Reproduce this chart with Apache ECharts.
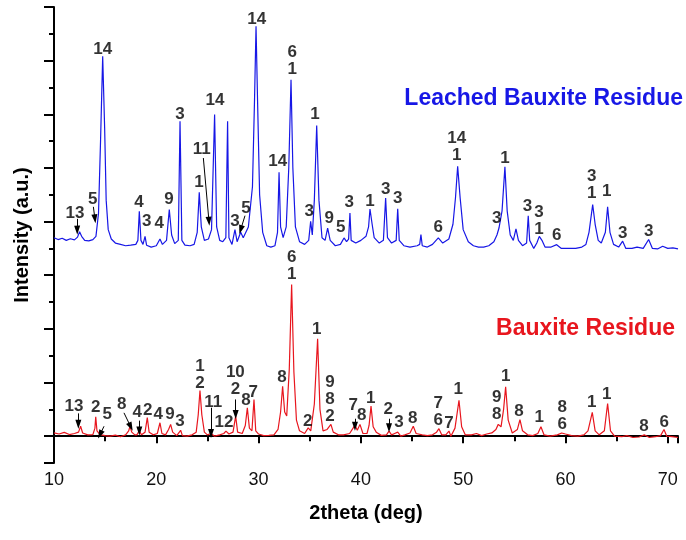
<!DOCTYPE html>
<html>
<head>
<meta charset="utf-8">
<script src="https://cdn.jsdelivr.net/npm/echarts@6/dist/echarts.min.js"></script>
<style>
  html, body { margin: 0; padding: 0; background: #fff; }
  #chart { width: 686px; height: 540px; }
</style>
</head>
<body>
<div id="chart"></div>
<script>
// XRD patterns, [2theta, intensity] (offset traces)
const leachedPattern = [
  [10.0, 7.40], [10.4, 7.33], [10.8, 7.38], [11.2, 7.30], [11.6, 7.36], [12.0, 7.32],
  [12.3, 7.42], [12.5, 7.62], [12.7, 7.45], [13.0, 7.30], [13.4, 7.28], [13.8, 7.33],
  [14.1, 7.45], [14.35, 8.3], [14.55, 11.0], [14.76, 14.16], [14.95, 11.5], [15.1, 8.8],
  [15.3, 7.7], [15.6, 7.35], [16.0, 7.20], [16.5, 7.15], [17.0, 7.10], [17.5, 7.12],
  [18.0, 7.15], [18.2, 7.3], [18.34, 8.38], [18.5, 7.3], [18.7, 7.15], [18.9, 7.45],
  [19.05, 7.12], [19.5, 7.05], [20.0, 7.1], [20.36, 7.35], [20.6, 7.15], [21.0, 7.3],
  [21.27, 8.45], [21.5, 7.5], [21.8, 7.18], [22.15, 7.3], [22.32, 11.74], [22.5, 7.3],
  [22.8, 7.12], [23.3, 7.10], [23.7, 7.15], [24.0, 7.6], [24.2, 9.09], [24.4, 7.8],
  [24.7, 7.3], [25.1, 7.35], [25.4, 7.7], [25.7, 11.99], [25.9, 7.8], [26.2, 7.3],
  [26.5, 7.25], [26.8, 7.4], [26.97, 11.74], [27.1, 7.4], [27.4, 7.15], [27.69, 7.7],
  [27.9, 7.25], [28.25, 7.6], [28.5, 7.4], [29.0, 7.8], [29.4, 9.3], [29.6, 12.5],
  [29.75, 15.28], [29.9, 12.5], [30.1, 9.0], [30.4, 7.6], [30.8, 7.1], [31.2, 7.05],
  [31.6, 7.1], [31.85, 7.6], [32.0, 9.84], [32.15, 7.8], [32.4, 7.4], [32.7, 7.8],
  [32.95, 10.0], [33.17, 13.29], [33.35, 10.0], [33.6, 7.8], [34.0, 7.25], [34.5, 7.15],
  [34.9, 7.3], [35.09, 8.01], [35.25, 7.5], [35.45, 8.8], [35.68, 11.58], [35.9, 8.8],
  [36.2, 7.4], [36.5, 7.3], [36.75, 7.76], [37.0, 7.3], [37.5, 7.1], [38.0, 7.15],
  [38.35, 7.39], [38.6, 7.25], [38.8, 7.35], [38.93, 8.32], [39.05, 7.3], [39.5, 7.2],
  [40.0, 7.3], [40.5, 7.45], [40.75, 7.8], [40.89, 8.47], [41.1, 7.9], [41.3, 7.4],
  [41.8, 7.2], [42.2, 7.3], [42.42, 8.88], [42.6, 7.4], [43.0, 7.2], [43.45, 7.3],
  [43.6, 8.48], [43.75, 7.3], [44.2, 7.1], [44.8, 7.05], [45.5, 7.1], [45.75, 7.15],
  [45.87, 7.52], [46.0, 7.1], [46.5, 7.05], [47.0, 7.15], [47.57, 7.39], [48.0, 7.2],
  [48.6, 7.35], [49.0, 7.9], [49.25, 8.9], [49.46, 10.06], [49.7, 8.9], [50.0, 7.7],
  [50.5, 7.25], [51.0, 7.1], [51.5, 7.05], [52.0, 7.05], [52.5, 7.1], [53.0, 7.25],
  [53.3, 7.5], [53.5, 7.76], [53.8, 8.4], [54.08, 10.04], [54.3, 8.4], [54.6, 7.5],
  [54.9, 7.3], [55.16, 7.73], [55.4, 7.3], [55.8, 7.1], [56.2, 7.2], [56.36, 8.22],
  [56.5, 7.3], [56.9, 7.0], [57.2, 7.2], [57.44, 7.45], [57.7, 7.3], [58.0, 7.05],
  [58.6, 7.05], [59.14, 7.14], [59.6, 7.0], [60.2, 7.0], [61.0, 7.0], [61.6, 7.05],
  [62.0, 7.15], [62.3, 7.6], [62.66, 8.63], [62.9, 7.9], [63.2, 7.3], [63.5, 7.2],
  [63.9, 7.6], [64.12, 8.55], [64.35, 7.6], [64.7, 7.15], [65.2, 7.05], [65.59, 7.27],
  [65.9, 7.0], [66.5, 7.0], [67.0, 7.05], [67.6, 7.0], [68.13, 7.33], [68.5, 7.0],
  [69.0, 6.98], [69.5, 7.08], [70.0, 7.0], [70.5, 7.02], [71.0, 6.98]
];

const residuePattern = [
  [10.0, 0.12], [10.5, 0.08], [11.0, 0.14], [11.5, 0.06], [12.0, 0.10], [12.4, 0.15],
  [12.6, 0.37], [12.8, 0.12], [13.3, 0.05], [13.8, 0.06], [14.0, 0.3], [14.08, 0.72],
  [14.2, 0.2], [14.5, 0.06], [15.0, 0.02], [15.5, 0.0], [16.0, 0.04], [16.5, -0.02],
  [17.0, 0.05], [17.3, 0.2], [17.43, 0.37], [17.6, 0.15], [17.9, 0.05], [18.1, 0.05],
  [18.34, 0.2], [18.55, 0.05], [18.9, 0.15], [19.12, 0.69], [19.3, 0.15], [19.7, 0.05],
  [20.1, 0.1], [20.36, 0.5], [20.55, 0.1], [20.9, 0.05], [21.2, 0.25], [21.4, 0.44],
  [21.6, 0.15], [22.0, 0.02], [22.38, 0.22], [22.55, 0.02], [23.0, 0.0], [23.5, 0.05],
  [23.9, 0.15], [24.1, 0.8], [24.27, 1.7], [24.45, 0.8], [24.7, 0.15], [25.0, 0.05],
  [25.35, 0.1], [25.7, 0.0], [26.2, 0.05], [26.6, 0.1], [26.81, 0.19], [27.1, 0.08],
  [27.5, 0.15], [27.76, 0.75], [27.95, 0.15], [28.4, 0.1], [28.7, 0.4], [28.9, 1.06],
  [29.1, 0.3], [29.35, 0.2], [29.55, 1.37], [29.72, 0.2], [30.0, 0.08], [30.5, 0.02],
  [31.0, 0.03], [31.5, 0.05], [31.9, 0.25], [32.15, 0.9], [32.35, 1.86], [32.55, 0.9],
  [32.75, 0.75], [33.0, 2.5], [33.23, 5.65], [33.45, 2.4], [33.7, 0.6], [34.0, 0.2],
  [34.5, 0.1], [34.85, 0.31], [35.1, 0.2], [35.45, 1.2], [35.77, 3.63], [36.0, 1.0],
  [36.3, 0.2], [36.7, 0.25], [37.07, 0.44], [37.3, 0.15], [37.8, 0.05], [38.3, 0.05],
  [38.9, 0.1], [39.42, 0.41], [39.65, 0.22], [39.91, 0.44], [40.2, 0.1], [40.6, 0.1],
  [40.8, 0.4], [40.99, 1.12], [41.2, 0.35], [41.5, 0.15], [42.0, 0.03], [42.5, 0.05],
  [42.75, 0.19], [43.0, 0.05], [43.3, 0.1], [43.6, 0.15], [43.9, 0.0], [44.3, 0.05],
  [44.8, 0.12], [45.12, 0.37], [45.4, 0.1], [46.0, 0.05], [46.5, 0.02], [47.0, 0.05],
  [47.4, 0.15], [47.63, 0.28], [47.9, 0.05], [48.3, 0.05], [48.61, 0.19], [48.8, 0.0],
  [49.2, 0.3], [49.59, 1.34], [49.85, 0.35], [50.2, 0.05], [50.8, 0.05], [51.3, 0.1],
  [51.8, 0.02], [52.3, 0.08], [52.8, 0.12], [53.2, 0.25], [53.43, 0.44], [53.7, 0.35],
  [53.95, 1.0], [54.15, 1.84], [54.4, 0.6], [54.8, 0.12], [55.3, 0.25], [55.55, 0.62],
  [55.8, 0.2], [56.3, 0.05], [56.8, 0.02], [57.3, 0.1], [57.6, 0.35], [57.9, 0.05],
  [58.5, 0.0], [59.2, 0.05], [59.63, 0.12], [60.0, 0.08], [60.6, 0.02], [61.2, 0.0],
  [61.8, 0.05], [62.2, 0.2], [62.62, 0.89], [62.9, 0.2], [63.3, 0.05], [63.8, 0.2],
  [64.12, 1.22], [64.4, 0.2], [64.8, 0.0], [65.5, -0.02], [66.0, 0.02], [66.6, -0.05],
  [67.2, -0.03], [67.7, 0.05], [68.2, -0.05], [68.8, -0.02], [69.3, 0.02], [69.63, 0.25],
  [69.9, 0.0], [70.4, -0.02], [71.0, -0.05]
];

// phase numbers: [2theta, intensity, text]
const leachedLabels = [
  [12.05, 8.32, '13'], [13.78, 8.82, '5'], [14.76, 14.43, '14'], [18.31, 8.70, '4'],
  [19.06, 8.01, '3'], [20.29, 7.95, '4'], [21.24, 8.82, '9'], [22.32, 11.99, '3'],
  [24.17, 9.46, '1'], [24.44, 10.68, '11'], [25.74, 12.52, '14'], [27.69, 8.01, '3'],
  [28.77, 8.51, '5'], [29.81, 15.55, '14'], [31.87, 10.25, '14'], [33.28, 13.98, '6\n1'],
  [34.96, 8.38, '3'], [35.51, 11.99, '1'], [36.91, 8.14, '9'], [38.03, 7.79, '5'],
  [38.87, 8.72, '3'], [40.89, 8.76, '1'], [42.42, 9.19, '3'], [43.60, 8.85, '3'],
  [47.57, 7.77, '6'], [49.36, 10.78, '14\n1'], [53.27, 8.14, '3'], [54.09, 10.37, '1'],
  [56.29, 8.56, '3'], [57.41, 8.03, '3\n1'], [59.14, 7.48, '6'], [62.56, 9.38, '3\n1'],
  [64.03, 9.13, '1'], [65.59, 7.55, '3'], [68.13, 7.64, '3']
];

const residueLabels = [
  [11.96, 1.12, '13'], [14.08, 1.08, '2'], [15.21, 0.81, '5'], [16.62, 1.18, '8'],
  [18.14, 0.89, '4'], [19.16, 0.96, '2'], [20.2, 0.81, '4'], [21.34, 0.81, '9'],
  [22.32, 0.56, '3'], [24.27, 2.27, '1\n2'], [25.57, 1.27, '11'], [26.62, 0.5, '12'],
  [27.73, 2.06, '10\n2'], [28.77, 1.34, '8'], [29.48, 1.65, '7'], [32.29, 2.2, '8'],
  [33.23, 6.34, '6\n1'], [34.8, 0.56, '2'], [35.68, 3.98, '1'], [36.98, 1.37, '9\n8\n2'],
  [39.26, 1.14, '7'], [40.08, 0.77, '8'], [40.96, 1.43, '1'], [42.68, 1.0, '2'],
  [43.72, 0.52, '3'], [45.06, 0.65, '8'], [47.57, 0.92, '7\n6'], [48.61, 0.47, '7'],
  [49.52, 1.74, '1'], [53.27, 1.13, '9\n8'], [54.15, 2.24, '1'], [55.45, 0.91, '8'],
  [57.44, 0.72, '1'], [59.69, 0.75, '8\n6'], [62.56, 1.27, '1'], [64.03, 1.55, '1'],
  [67.67, 0.37, '8'], [69.66, 0.52, '6']
];

// pointer arrows: [x from, y from, x to, y to]
const leachedArrows = [
  [12.25, 8.1, 12.27, 7.68], [13.85, 8.55, 14.0, 8.1],
  [24.6, 10.37, 25.15, 8.01], [28.67, 8.22, 28.25, 7.70]
];
const residueArrows = [
  [12.38, 0.85, 12.38, 0.44], [14.89, 0.37, 14.5, 0.06], [16.84, 0.87, 17.5, 0.35],
  [18.34, 0.58, 18.34, 0.19], [25.35, 1.06, 25.35, 0.10], [27.76, 1.37, 27.76, 0.81],
  [39.42, 0.65, 39.42, 0.37], [42.75, 0.65, 42.75, 0.31]
];

const BLUE = '#1717e6'
const RED = '#e8161e'
const FONT = '"Liberation Sans", Arial, sans-serif'

function labelSeries(labels, arrows) {
  return {
    type: 'scatter',
    symbolSize: 1,
    itemStyle: { color: 'transparent' },
    silent: true,
    z: 5,
    label: {
      show: true,
      position: 'inside',
      formatter: '{b}',
      color: '#000',
      fontFamily: FONT,
      fontWeight: 'bold',
      fontSize: 17,
      lineHeight: 17,
    },
    data: labels.map(l => ({ value: [l[0], l[1]], name: l[2] })),
    markLine: {
      silent: true,
      symbol: ['none', 'triangle'],
      symbolSize: [6, 9],
      lineStyle: { color: '#000', width: 1, type: 'solid' },
      label: { show: false },
      data: arrows.map(a => [{ coord: [a[0], a[1]] }, { coord: [a[2], a[3]] }]),
    },
  }
}

const chart = echarts.init(document.getElementById('chart'))
chart.setOption({
  animation: false,
  backgroundColor: '#fff',
  grid: { left: 54, right: 8, top: 7, bottom: 77 },
  title: [
    { text: 'Leached Bauxite Residue', right: 3, top: 87, padding: 0,
      textStyle: { color: BLUE, fontFamily: FONT, fontWeight: 'bold', fontSize: 23 } },
    { text: 'Bauxite Residue', right: 11, top: 317, padding: 0,
      textStyle: { color: RED, fontFamily: FONT, fontWeight: 'bold', fontSize: 23 } },
  ],
  xAxis: {
    type: 'value',
    min: 10,
    max: 71,
    interval: 10,
    name: '2theta (deg)',
    nameLocation: 'middle',
    nameGap: 40,
    nameTextStyle: { color: '#000', fontFamily: FONT, fontWeight: 'bold', fontSize: 20 },
    splitLine: { show: false },
    axisLine: { lineStyle: { color: '#000', width: 2 } },
    axisTick: { length: 7, lineStyle: { color: '#000', width: 2 } },
    minorTick: { show: true, splitNumber: 2, length: 5, lineStyle: { color: '#000', width: 2 } },
    axisLabel: { color: '#111', fontFamily: FONT, fontSize: 18, margin: 8 },
  },
  yAxis: [
    {
      type: 'value',
      min: -1,
      max: 16,
      interval: 1,
      name: 'Intensity (a.u.)',
      nameLocation: 'middle',
      nameGap: 22,
      nameTextStyle: { color: '#000', fontFamily: FONT, fontWeight: 'bold', fontSize: 20 },
      splitLine: { show: false },
      axisLine: { show: true, lineStyle: { color: '#000', width: 2 } },
      axisTick: { length: 5, lineStyle: { color: '#000', width: 2 } },
      axisLabel: { show: false },
    },
    {
      // long ticks only, counted down from the top
      type: 'value',
      position: 'left',
      inverse: true,
      min: -16,
      max: 1,
      interval: 2,
      splitLine: { show: false },
      axisLine: { show: false },
      axisTick: { length: 10, lineStyle: { color: '#000', width: 2 } },
      axisLabel: { show: false },
    },
  ],
  series: [
    {
      name: 'Leached Bauxite Residue',
      type: 'line',
      data: leachedPattern,
      showSymbol: false,
      lineStyle: { color: BLUE, width: 1.2 },
      z: 3,
    },
    {
      name: 'Bauxite Residue',
      type: 'line',
      data: residuePattern,
      showSymbol: false,
      lineStyle: { color: RED, width: 1.2 },
      z: 3,
    },
    labelSeries(leachedLabels, leachedArrows),
    labelSeries(residueLabels, residueArrows),
  ],
})
</script>
</body>
</html>
